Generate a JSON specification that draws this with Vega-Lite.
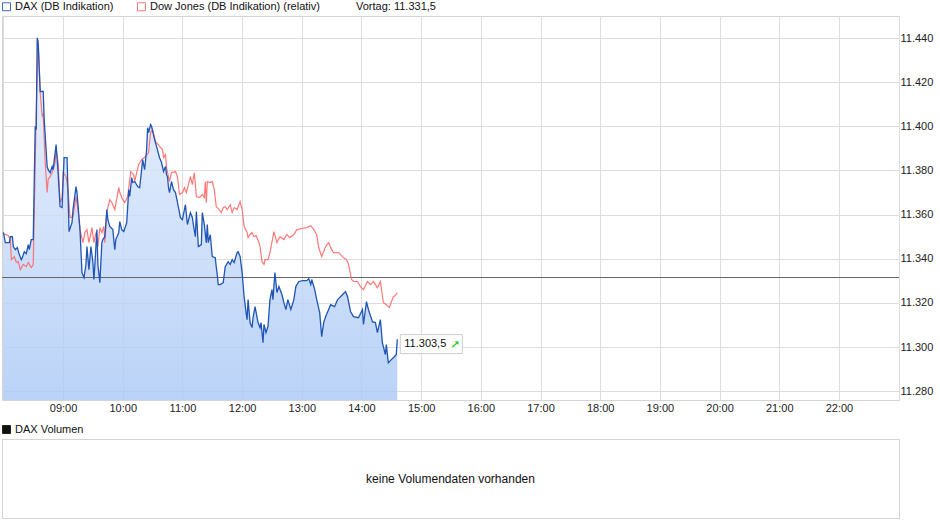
{
  "$schema": "https://vega.github.io/schema/vega-lite/v6.json",
  "background": "white",
  "padding": {"left": 0, "top": 0, "right": 0, "bottom": 0},
  "spacing": 9,
  "config": {
    "font": "Liberation Sans",
    "view": {"stroke": "#d4d4d4"},
    "axis": {"labelFont": "Liberation Sans", "labelFontSize": 11, "labelColor": "#222222", "gridColor": "#dddddd", "gridWidth": 1, "ticks": false, "domain": false},
    "legend": {"labelFont": "Liberation Sans", "labelFontSize": 11, "labelColor": "#111111"}
  },
  "datasets": {
    "dax": [
      {"m":480,"v":11351.9},{"m":482,"v":11347.3},{"m":486,"v":11347.3},{"m":487,"v":11350.0},{"m":489,"v":11350.0},{"m":490,"v":11345.5},{"m":492,"v":11344.1},{"m":494,"v":11345.1},{"m":496,"v":11341.9},{"m":498,"v":11339.6},{"m":499,"v":11340.5},{"m":501,"v":11343.2},{"m":503,"v":11342.3},{"m":505,"v":11346.4},{"m":506,"v":11344.1},{"m":508,"v":11348.7},{"m":510,"v":11348.7},{"m":512,"v":11400.0},{"m":513,"v":11398.5},{"m":514,"v":11440.1},{"m":515,"v":11437.1},{"m":517,"v":11415.8},{"m":520,"v":11415.8},{"m":521,"v":11403.1},{"m":524,"v":11381.8},{"m":525,"v":11380.4},{"m":527,"v":11379.0},{"m":529,"v":11381.8},{"m":530,"v":11380.4},{"m":533,"v":11391.7},{"m":535,"v":11379.0},{"m":537,"v":11363.6},{"m":539,"v":11363.2},
      {"m":541,"v":11385.8},{"m":544,"v":11385.8},{"m":546,"v":11352.3},{"m":549,"v":11356.4},{"m":550,"v":11362.3},{"m":553,"v":11372.7},{"m":554,"v":11370.0},{"m":557,"v":11353.2},{"m":559,"v":11333.7},{"m":561,"v":11331.5},{"m":563,"v":11337.4},{"m":564,"v":11345.5},{"m":566,"v":11335.1},{"m":568,"v":11345.5},{"m":570,"v":11338.3},{"m":571,"v":11330.6},{"m":572,"v":11337.4},{"m":574,"v":11353.2},{"m":575,"v":11337.4},{"m":577,"v":11329.2},{"m":579,"v":11347.3},{"m":580,"v":11348.7},{"m":582,"v":11350.0},{"m":584,"v":11362.3},{"m":585,"v":11357.7},{"m":587,"v":11354.6},{"m":590,"v":11353.2},{"m":592,"v":11344.1},{"m":593,"v":11348.7},{"m":596,"v":11351.9},{"m":597,"v":11356.8},{"m":599,"v":11353.2},
      {"m":601,"v":11352.3},{"m":604,"v":11356.4},{"m":606,"v":11371.3},{"m":607,"v":11368.2},{"m":609,"v":11376.8},{"m":610,"v":11374.5},{"m":612,"v":11375.0},{"m":615,"v":11372.7},{"m":617,"v":11372.2},{"m":619,"v":11380.4},{"m":620,"v":11384.9},{"m":622,"v":11380.4},{"m":624,"v":11389.5},{"m":625,"v":11399.4},{"m":626,"v":11397.2},{"m":628,"v":11400.8},{"m":629,"v":11399.9},{"m":632,"v":11394.0},{"m":634,"v":11390.8},{"m":637,"v":11385.8},{"m":639,"v":11383.6},{"m":641,"v":11379.5},{"m":643,"v":11381.8},{"m":644,"v":11378.1},{"m":645,"v":11377.2},{"m":646,"v":11372.2},{"m":647,"v":11370.0},{"m":649,"v":11375.0},{"m":651,"v":11371.3},{"m":653,"v":11370.0},{"m":655,"v":11365.5},{"m":658,"v":11358.6},
      {"m":660,"v":11357.7},{"m":661,"v":11360.0},{"m":663,"v":11364.5},{"m":665,"v":11355.5},{"m":668,"v":11360.9},{"m":670,"v":11358.6},{"m":671,"v":11355.5},{"m":673,"v":11350.0},{"m":674,"v":11361.4},{"m":676,"v":11345.5},{"m":679,"v":11346.4},{"m":680,"v":11360.9},{"m":682,"v":11355.5},{"m":684,"v":11347.3},{"m":685,"v":11355.5},{"m":686,"v":11347.3},{"m":688,"v":11350.9},{"m":690,"v":11341.0},{"m":693,"v":11340.5},{"m":694,"v":11336.4},{"m":695,"v":11332.8},{"m":696,"v":11328.3},{"m":698,"v":11328.3},{"m":701,"v":11329.2},{"m":703,"v":11336.4},{"m":706,"v":11338.7},{"m":708,"v":11337.4},{"m":710,"v":11339.6},{"m":712,"v":11338.3},{"m":715,"v":11342.8},{"m":716,"v":11343.2},{"m":718,"v":11341.0},
      {"m":720,"v":11333.7},{"m":722,"v":11322.8},{"m":724,"v":11315.6},{"m":725,"v":11312.4},{"m":726,"v":11321.5},{"m":728,"v":11311.1},{"m":730,"v":11308.8},{"m":731,"v":11313.3},{"m":733,"v":11318.3},{"m":736,"v":11311.1},{"m":738,"v":11308.8},{"m":739,"v":11311.1},{"m":741,"v":11302.0},{"m":742,"v":11310.2},{"m":744,"v":11306.5},{"m":746,"v":11309.3},{"m":748,"v":11321.5},{"m":750,"v":11326.0},{"m":751,"v":11321.5},{"m":753,"v":11333.7},{"m":755,"v":11324.7},{"m":757,"v":11327.4},{"m":760,"v":11323.8},{"m":762,"v":11320.1},{"m":764,"v":11317.0},{"m":766,"v":11321.5},{"m":769,"v":11317.0},{"m":772,"v":11321.5},{"m":774,"v":11327.4},{"m":777,"v":11329.7},
      {"m":781,"v":11330.1},{"m":785,"v":11330.1},{"m":787,"v":11331.0},{"m":789,"v":11328.3},{"m":790,"v":11330.6},{"m":793,"v":11326.0},{"m":795,"v":11321.5},{"m":798,"v":11315.6},{"m":800,"v":11304.7},{"m":802,"v":11311.1},{"m":804,"v":11313.8},{"m":807,"v":11317.0},{"m":809,"v":11319.2},{"m":813,"v":11318.3},{"m":816,"v":11321.5},{"m":818,"v":11322.4},{"m":821,"v":11323.8},{"m":824,"v":11325.1},{"m":826,"v":11322.8},{"m":829,"v":11316.1},{"m":832,"v":11313.8},{"m":837,"v":11313.3},
      {"m":841,"v":11317.0},{"m":842,"v":11310.2},{"m":845,"v":11320.6},{"m":847,"v":11317.0},{"m":851,"v":11311.5},{"m":854,"v":11311.1},{"m":856,"v":11306.5},{"m":859,"v":11312.4},{"m":861,"v":11302.0},{"m":864,"v":11296.6},{"m":865,"v":11301.1},{"m":867,"v":11292.9},{"m":870,"v":11294.3},{"m":873,"v":11295.6},{"m":875,"v":11296.6},{"m":876,"v":11303.5}
    ],
    "dow": [
      {"m":480,"v":11351.4},{"m":485,"v":11350.4},{"m":487,"v":11348.7},{"m":488,"v":11339.6},{"m":491,"v":11341.0},{"m":493,"v":11338.3},{"m":495,"v":11338.7},{"m":497,"v":11335.1},{"m":500,"v":11337.4},{"m":503,"v":11336.4},{"m":505,"v":11338.3},{"m":508,"v":11336.0},{"m":510,"v":11337.4},{"m":513,"v":11406.2},{"m":515,"v":11439.3},{"m":517,"v":11415.3},{"m":519,"v":11404.4},{"m":520,"v":11405.8},{"m":522,"v":11383.6},{"m":524,"v":11370.0},{"m":525,"v":11375.9},{"m":527,"v":11377.2},{"m":529,"v":11379.0},{"m":532,"v":11383.6},{"m":533,"v":11389.5},{"m":535,"v":11383.6},{"m":537,"v":11365.5},{"m":539,"v":11367.7},
      {"m":540,"v":11379.0},{"m":543,"v":11377.2},{"m":545,"v":11371.3},{"m":547,"v":11358.6},{"m":550,"v":11359.1},{"m":553,"v":11368.2},{"m":555,"v":11362.3},{"m":557,"v":11353.2},{"m":560,"v":11347.3},{"m":562,"v":11351.9},{"m":564,"v":11353.2},{"m":566,"v":11347.3},{"m":569,"v":11354.1},{"m":571,"v":11347.3},{"m":573,"v":11351.9},{"m":575,"v":11345.5},{"m":577,"v":11354.1},{"m":579,"v":11351.9},{"m":581,"v":11354.6},{"m":582,"v":11347.3},{"m":584,"v":11361.4},{"m":587,"v":11366.8},{"m":589,"v":11365.5},{"m":592,"v":11362.3},{"m":596,"v":11372.2},{"m":597,"v":11370.0},
      {"m":600,"v":11366.8},{"m":602,"v":11365.5},{"m":605,"v":11368.2},{"m":608,"v":11379.5},{"m":611,"v":11378.1},{"m":612,"v":11375.0},{"m":614,"v":11379.0},{"m":616,"v":11382.7},{"m":619,"v":11384.9},{"m":623,"v":11386.3},{"m":626,"v":11388.1},{"m":628,"v":11397.2},{"m":630,"v":11398.5},{"m":633,"v":11393.1},{"m":634,"v":11392.6},{"m":638,"v":11390.4},{"m":640,"v":11389.5},{"m":641,"v":11385.8},{"m":643,"v":11387.2},{"m":644,"v":11381.3},{"m":647,"v":11375.0},{"m":649,"v":11379.0},{"m":653,"v":11379.5},{"m":655,"v":11377.2},{"m":657,"v":11369.1},
      {"m":660,"v":11370.0},{"m":662,"v":11372.2},{"m":664,"v":11370.0},{"m":666,"v":11373.6},{"m":668,"v":11377.2},{"m":670,"v":11373.6},{"m":672,"v":11379.0},{"m":674,"v":11368.2},{"m":677,"v":11367.7},{"m":680,"v":11369.1},{"m":682,"v":11367.7},{"m":683,"v":11375.0},{"m":684,"v":11365.5},{"m":685,"v":11375.0},{"m":688,"v":11374.5},{"m":690,"v":11375.0},{"m":692,"v":11371.3},{"m":694,"v":11363.6},{"m":697,"v":11362.3},{"m":699,"v":11360.9},{"m":701,"v":11363.2},{"m":703,"v":11363.6},{"m":705,"v":11362.3},{"m":708,"v":11364.5},{"m":710,"v":11360.9},{"m":712,"v":11363.2},{"m":715,"v":11362.3},{"m":718,"v":11365.9},
      {"m":720,"v":11362.3},{"m":722,"v":11354.6},{"m":725,"v":11351.9},{"m":726,"v":11349.6},{"m":728,"v":11351.0},{"m":730,"v":11351.9},{"m":732,"v":11350.0},{"m":734,"v":11350.5},{"m":737,"v":11347.3},{"m":738,"v":11345.5},{"m":740,"v":11338.7},{"m":742,"v":11337.4},{"m":743,"v":11339.6},{"m":746,"v":11339.6},{"m":748,"v":11342.8},{"m":752,"v":11352.3},{"m":755,"v":11347.3},{"m":758,"v":11350.0},{"m":762,"v":11348.7},{"m":765,"v":11351.0},{"m":768,"v":11349.6},{"m":772,"v":11351.0},{"m":775,"v":11353.2},
      {"m":780,"v":11353.7},{"m":785,"v":11354.1},{"m":789,"v":11355.0},{"m":792,"v":11353.2},{"m":795,"v":11351.0},{"m":797,"v":11345.1},{"m":800,"v":11341.0},{"m":804,"v":11345.5},{"m":807,"v":11347.3},{"m":810,"v":11344.1},{"m":812,"v":11342.8},{"m":817,"v":11342.8},{"m":822,"v":11340.5},{"m":825,"v":11339.6},{"m":827,"v":11337.4},{"m":830,"v":11330.6},{"m":832,"v":11329.7},{"m":836,"v":11329.7},{"m":839,"v":11327.4},
      {"m":842,"v":11326.0},{"m":846,"v":11329.7},{"m":849,"v":11328.3},{"m":852,"v":11329.7},{"m":856,"v":11326.9},{"m":859,"v":11329.7},{"m":862,"v":11320.1},{"m":865,"v":11319.2},{"m":868,"v":11317.9},{"m":872,"v":11322.8},{"m":874,"v":11323.3},{"m":876,"v":11324.6}
    ],
    "last": [{"m":876,"v":11303.5,"label":"11.303,5","arrow":"➚"}],
    "vortag": [{"v":11331.5}]
  },
  "vconcat": [
    {
      "width": 897,
      "height": 384,
      "data": {"name": "dax"},
      "layer": [
        {
          "mark": {"type": "area", "fillOpacity": 0.82, "color": {"x1": 0, "y1": 0, "x2": 0, "y2": 1, "gradient": "linear", "stops": [{"offset": 0, "color": "#e8f0fd"}, {"offset": 1, "color": "#abc9f6"}]}},
          "encoding": {
            "x": {"field": "m", "type": "quantitative",
              "scale": {"domain": [478.6, 1380.4], "zero": false, "nice": false},
              "axis": {"title": null, "values": [480, 540, 600, 660, 720, 780, 840, 900, 960, 1020, 1080, 1140, 1200, 1260, 1320, 1380], "labelPadding": 2, "labelExpr": "datum.value < 540 || datum.value > 1320 ? '' : (datum.value < 600 ? '0' : '') + floor(datum.value / 60) + ':00'", "labelFlush": false, "labelOverlap": false}},
            "y": {"field": "v", "type": "quantitative",
              "scale": {"domain": [11276, 11450], "zero": false, "nice": false},
              "axis": {"title": null, "orient": "right", "tickCount": 17, "values": [11280, 11290, 11300, 11310, 11320, 11330, 11340, 11350, 11360, 11370, 11380, 11390, 11400, 11410, 11420, 11430, 11440, 11450], "labelPadding": 1, "labelExpr": "datum.value > 11445 ? '' : replace(format(datum.value, ','), ',', '.')", "labelFlush": false, "labelOverlap": false}},
            "y2": {"datum": 11276}
          }
        },
        {
          "data": {"name": "vortag"},
          "mark": {"type": "rule", "color": "#666666", "strokeWidth": 1},
          "encoding": {"y": {"field": "v", "type": "quantitative",
            "axis": {"title": null, "orient": "right", "tickCount": 17, "values": [11280, 11290, 11300, 11310, 11320, 11330, 11340, 11350, 11360, 11370, 11380, 11390, 11400, 11410, 11420, 11430, 11440, 11450], "labelPadding": 1, "labelExpr": "datum.value > 11445 ? '' : replace(format(datum.value, ','), ',', '.')", "labelFlush": false, "labelOverlap": false}}}
        },
        {
          "data": {"name": "dow"},
          "mark": {"type": "line", "strokeWidth": 1.2, "opacity": 0.85},
          "encoding": {
            "x": {"field": "m", "type": "quantitative"},
            "y": {"field": "v", "type": "quantitative"},
            "color": {"datum": "Dow Jones (DB Indikation) (relativ)",
              "scale": {"domain": ["DAX (DB Indikation)", "Dow Jones (DB Indikation) (relativ)", "Vortag: 11.331,5"], "range": ["#1f55b5", "#ff6262", "#ffffff"]},
              "legend": {"orient": "none", "legendX": -1, "legendY": -15, "direction": "horizontal", "columnPadding": 21, "symbolType": "square", "symbolSize": 64, "labelOffset": 3, "padding": 0, "title": null, "labelLimit": 400, "symbolStrokeWidth": 1,
                "encode": {"symbols": {"update": {"fill": {"signal": "datum.value == 'DAX (DB Indikation)' ? '#1f55b5' : datum.value == 'Vortag: 11.331,5' ? '#ffffff' : '#ff6666'"}, "stroke": {"signal": "datum.value == 'DAX (DB Indikation)' ? '#0d2f73' : datum.value == 'Vortag: 11.331,5' ? '#111111' : '#b03030'"}, "opacity": {"value": 1}, "fillOpacity": {"value": 1}}}}}
            }
          }
        },
        {
          "mark": {"type": "line", "strokeWidth": 1.3},
          "encoding": {
            "x": {"field": "m", "type": "quantitative"},
            "y": {"field": "v", "type": "quantitative"},
            "color": {"datum": "DAX (DB Indikation)"}
          }
        },
        {
          "data": {"name": "last"},
          "encoding": {"x": {"field": "m", "type": "quantitative"}, "y": {"field": "v", "type": "quantitative"}},
          "layer": [
            {"mark": {"type": "point", "shape": "M0.046,-0.072L1,-0.072L1,0.22L0.046,0.22Z", "size": 16900, "filled": true, "fill": "#ffffff", "stroke": "#cccccc", "strokeWidth": 1, "opacity": 1, "fillOpacity": 1}},
            {"mark": {"type": "text", "align": "left", "baseline": "middle", "dx": 7, "dy": 5, "fontSize": 11, "color": "#111111"}, "encoding": {"text": {"field": "label"}}},
            {"mark": {"type": "text", "align": "left", "baseline": "middle", "dx": 53, "dy": 5, "fontSize": 12, "color": "#22cc22", "font": "DejaVu Sans", "fontWeight": "bold"}, "encoding": {"text": {"field": "arrow"}}}
          ]
        }
      ]
    },
    {
      "width": 897,
      "height": 79,
      "data": {"values": [{"msg": "keine Volumendaten vorhanden", "s": "DAX Volumen"}]},
      "mark": {"type": "text", "fontSize": 12, "baseline": "middle", "align": "center"},
      "encoding": {
        "x": {"datum": 0, "type": "quantitative", "scale": {"domain": [-1, 1]}, "axis": null},
        "y": {"datum": 0, "type": "quantitative", "scale": {"domain": [-1, 1]}, "axis": null},
        "text": {"field": "msg"},
        "color": {"field": "s", "type": "nominal", "scale": {"range": ["#111111"]},
          "legend": {"orient": "none", "legendX": -1, "legendY": -15, "symbolType": "square", "symbolSize": 64, "labelOffset": 3, "padding": 0, "title": null,
            "encode": {"symbols": {"update": {"fill": {"value": "#cccccc"}, "stroke": {"value": "#222222"}, "strokeWidth": {"value": 1}, "opacity": {"value": 1}}}}}}
      }
    }
  ],
  "resolve": {"scale": {"color": "independent", "x": "independent", "y": "independent"}, "legend": {"color": "independent"}}
}
